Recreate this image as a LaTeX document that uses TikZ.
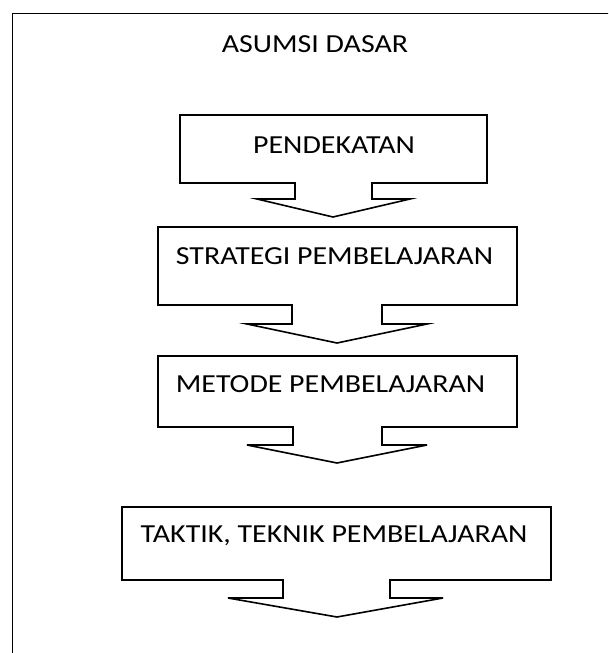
\documentclass[tikz,border=0pt]{standalone}
\usepackage{fontspec}
\setmainfont{Carlito}[FakeStretch=1.15]
\begin{document}
\begin{tikzpicture}[x=1pt, y=-1pt, line width=1.6pt, line join=miter]
\tikzset{
  label/.style={inner sep=0pt, outer sep=0pt, font=\fontsize{26}{30}\selectfont},
}

\useasboundingbox (0,0) rectangle (608,653);
\clip (0,0) rectangle (608,653);

% kerangka luar
\draw (12.5,660) -- (12.5,13.5) -- (615,13.5);

\node [label] (asumsi) at (315,44) {ASUMSI DASAR};

% pendekatan
\draw (180,115) -- (487,115) -- (487,183) -- (372,183) -- (372,199) -- (410,199)
  -- (333,217) -- (257,199) -- (295,199) -- (295,183) -- (180,183) -- cycle;
\node [label] (pendekatan) at (334,145) {PENDEKATAN};

% strategi
\draw (158,227) -- (517,227) -- (517,305) -- (382,305) -- (382,324) -- (427,324)
  -- (337,343) -- (247,324) -- (292,324) -- (292,305) -- (158,305) -- cycle;
\node [label] (strategi) at (334.5,256) {STRATEGI PEMBELAJARAN};

% metode
\draw (158,356) -- (517,356) -- (517,427) -- (382,427) -- (382,445) -- (427,445)
  -- (337,463) -- (247,445) -- (293,445) -- (293,427) -- (158,427) -- cycle;
\node [label] (metode) at (330.5,384) {METODE PEMBELAJARAN};

% taktik, teknik
\draw (122,507) -- (551,507) -- (551,580) -- (390,580) -- (390,598) -- (443,598)
  -- (337,617) -- (228,598) -- (283,598) -- (283,580) -- (122,580) -- cycle;
\node [label] (taktik) at (334,536) {TAKTIK, TEKNIK PEMBELAJARAN};

\end{tikzpicture}
\end{document}
